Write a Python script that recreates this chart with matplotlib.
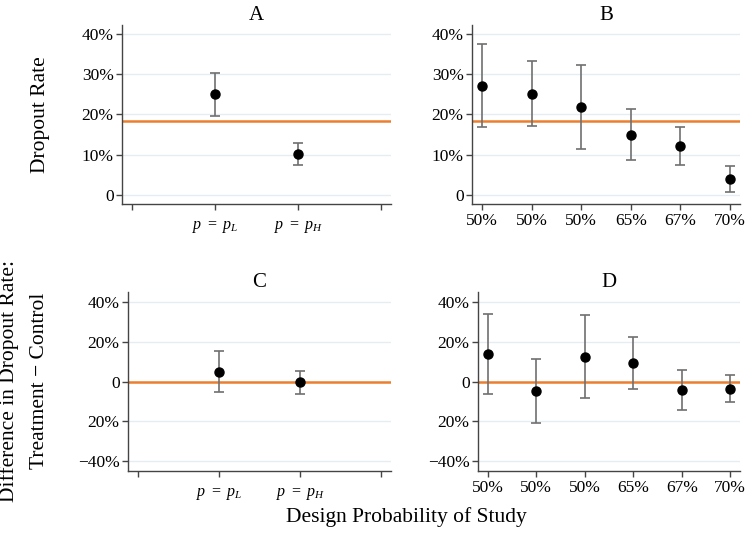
import numpy as np
import matplotlib
matplotlib.use('Agg')
import matplotlib.pyplot as plt

plt.rcParams['font.family'] = ['Liberation Serif', 'DejaVu Serif']
plt.rcParams['mathtext.fontset'] = 'custom'
plt.rcParams['mathtext.rm'] = 'Liberation Serif'
plt.rcParams['mathtext.it'] = 'Liberation Serif:italic'

# Data
# ----
pooled_labels = [r'$p\ =\ p_L$', r'$p\ =\ p_H$']
study_labels = ['50%', '50%', '50%', '65%', '67%', '70%']

rate_pooled = [0.250, 0.102]
rate_pooled_lo = [0.196, 0.075]
rate_pooled_hi = [0.303, 0.130]

rate_study = [0.272, 0.252, 0.219, 0.149, 0.121, 0.039]
rate_study_lo = [0.170, 0.172, 0.114, 0.086, 0.074, 0.007]
rate_study_hi = [0.375, 0.332, 0.323, 0.213, 0.170, 0.072]

control_rate = 0.184

diff_pooled = [0.050, -0.005]
diff_pooled_lo = [-0.055, -0.065]
diff_pooled_hi = [0.154, 0.055]

diff_study = [0.136, -0.046, 0.125, 0.095, -0.043, -0.038]
diff_study_lo = [-0.065, -0.206, -0.081, -0.037, -0.143, -0.105]
diff_study_hi = [0.337, 0.111, 0.332, 0.224, 0.060, 0.032]

rate_ticks = [0, 0.1, 0.2, 0.3, 0.4]
rate_ticklabels = ['0', '10%', '20%', '30%', '40%']
diff_ticks = [-0.4, -0.2, 0, 0.2, 0.4]
diff_ticklabels = ['\u221240%', '20%', '0', '20%', '40%']

# Style
# -----
orange = '#ec7f2d'
grid_c = '#e6edf1'
err_c = '#707070'
spine_c = '#444444'


def style_ax(ax, yticks, yticklabels, ylim):
    ax.set_ylim(*ylim)
    ax.set_yticks(yticks)
    ax.set_yticklabels(yticklabels)
    for y in yticks:
        ax.axhline(y, color=grid_c, lw=1.0, zorder=0)
    for s in ['top', 'right']:
        ax.spines[s].set_visible(False)
    for s in ['left', 'bottom']:
        ax.spines[s].set_color(spine_c)
        ax.spines[s].set_linewidth(1.0)
    ax.tick_params(axis='both', direction='out', length=4.5, width=1.0,
                   color=spine_c, labelsize=12.5, pad=2)
    ax.tick_params(axis='y', pad=1.5)


def draw(ax, x, y, lo, hi, ref):
    y = np.array(y)
    yerr = np.vstack([y - np.array(lo), np.array(hi) - y])
    ax.axhline(ref, color=orange, lw=1.8, zorder=2)
    ax.errorbar(x, y, yerr=yerr, fmt='o', color='black', ms=6.5,
                ecolor=err_c, elinewidth=1.2, capsize=3.5, capthick=1.2, zorder=3)


fig = plt.figure(figsize=(7.45, 5.41), dpi=100)
W, H = 745., 541.


def add_ax(l, r, t, b):
    return fig.add_axes([l / W, 1 - b / H, (r - l) / W, (b - t) / H])


axA = add_ax(122, 391, 25, 204)
axB = add_ax(472, 740, 25, 204)
axC = add_ax(128, 391, 292, 471)
axD = add_ax(478, 740, 292, 471)

rate_lim = (-0.0225, 0.4225)
diff_lim = (-0.448, 0.448)

# Panel A
xp = [1, 2]
draw(axA, xp, rate_pooled, rate_pooled_lo, rate_pooled_hi, control_rate)
style_ax(axA, rate_ticks, rate_ticklabels, rate_lim)
axA.set_xlim(-0.12, 3.12)
axA.set_xticks([0, 1, 2, 3])
axA.set_xticklabels([''] + pooled_labels + [''])

# Panel B
xs = np.arange(1, len(study_labels) + 1)
draw(axB, xs, rate_study, rate_study_lo, rate_study_hi, control_rate)
style_ax(axB, rate_ticks, rate_ticklabels, rate_lim)
axB.set_xlim(0.8, 6.2)
axB.set_xticks(xs)
axB.set_xticklabels(study_labels)

# Panel C
draw(axC, xp, diff_pooled, diff_pooled_lo, diff_pooled_hi, 0)
style_ax(axC, diff_ticks, diff_ticklabels, diff_lim)
axC.set_xlim(-0.12, 3.12)
axC.set_xticks([0, 1, 2, 3])
axC.set_xticklabels([''] + pooled_labels + [''])

# Panel D
draw(axD, xs, diff_study, diff_study_lo, diff_study_hi, 0)
style_ax(axD, diff_ticks, diff_ticklabels, diff_lim)
axD.set_xlim(0.8, 6.2)
axD.set_xticks(xs)
axD.set_xticklabels(study_labels)

for ax in [axA, axC]:
    for lab in ax.get_xticklabels():
        lab.set_fontsize(11.5)
    ax.tick_params(axis='x', pad=6)

for ax, t in zip([axA, axB, axC, axD], ['A', 'B', 'C', 'D']):
    ax.set_title(t, fontsize=15, pad=3)

# Axis labels
fig.text(40 / W, 1 - 115 / H, 'Dropout Rate', rotation=90, ha='center',
         va='center', fontsize=15.5)
fig.text(24 / W, 1 - 381 / H, 'Difference in Dropout Rate:\nTreatment \u2212 Control',
         rotation=90, ha='center', va='center', fontsize=15.5, linespacing=1.75)
fig.text(406 / W, 1 - 517 / H, 'Design Probability of Study', ha='center',
         va='center', fontsize=15.5)

fig.savefig('out.png', dpi=100)
